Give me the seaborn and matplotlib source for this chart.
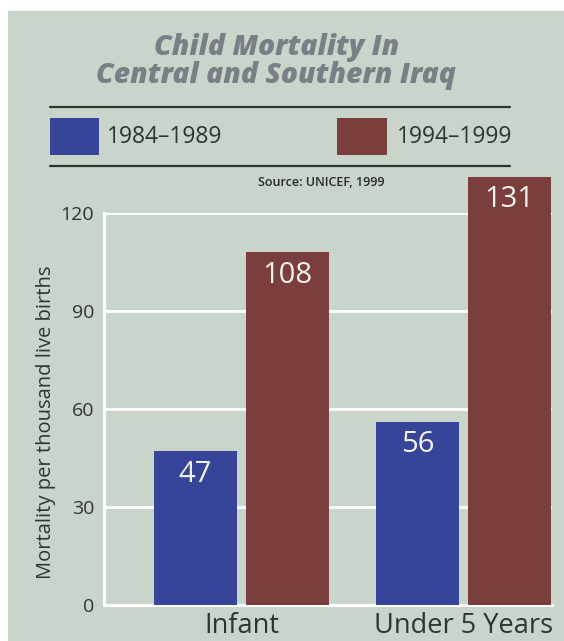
import pandas as pd
import matplotlib.pyplot as plt
import seaborn as sns
from matplotlib.patches import Rectangle

# data
categories = ['Infant', 'Under 5 Years']
periods = ['1984\u20131989', '1994\u20131999']
early = [47, 56]
late = [108, 131]
y_ticks = [0, 30, 60, 90, 120]

rows = []
for i, cat in enumerate(categories):
    rows.append({'Group': cat, 'Period': periods[0], 'Rate': early[i]})
    rows.append({'Group': cat, 'Period': periods[1], 'Rate': late[i]})
df = pd.DataFrame(rows)

sns.set_style('white')
plt.rcParams['font.family'] = ['Open Sans', 'DejaVu Sans']

panel = '#c9d4cb'
blue = '#36459a'
brown = '#7a3f3c'
ink = '#2f3432'

fig = plt.figure(figsize=(5.64, 6.41), dpi=100, facecolor='white')
fig.patches.append(Rectangle((8 / 564, 0), 1, 1 - 11 / 641, transform=fig.transFigure,
                             facecolor=panel, edgecolor='none', zorder=-10))

ax = fig.add_axes([104 / 564, 36 / 641, 448 / 564, 392 / 641])
ax.set_facecolor('none')

sns.barplot(data=df, x='Group', y='Rate', hue='Period', order=categories,
            hue_order=periods, palette=[blue, brown], saturation=1,
            width=0.83, gap=0.1, linewidth=0, legend=False, ax=ax)

for bar in ax.patches:
    bar.set_clip_on(False)
    h = bar.get_height()
    ax.annotate(f'{h:.0f}', (bar.get_x() + bar.get_width() / 2, h),
                xytext=(0, -6), textcoords='offset points', ha='center', va='top',
                fontsize=21, color='#f4f2ec', annotation_clip=False)

ax.set_xlim(-0.619, 1.399)
ax.set_ylim(0, 120)
ax.set_yticks(y_ticks)
ax.tick_params(axis='y', length=0, pad=7, labelsize=14, labelcolor='#333333')
ax.tick_params(axis='x', length=0, pad=5, labelsize=19.5, labelcolor=ink)
ax.set_xlabel('')
ax.set_ylabel('Mortality per thousand live births', fontsize=14.5, color='#333333')
ax.yaxis.set_label_coords(-0.108, 0.467)

ax.grid(axis='y', color='white', linewidth=2)
ax.set_axisbelow(True)
for side in ['top', 'right']:
    ax.spines[side].set_visible(False)
for side in ['left', 'bottom']:
    ax.spines[side].set_color('white')
    ax.spines[side].set_linewidth(2.2)
    ax.spines[side].set_zorder(0.5)

# title block
title_color = '#7a7e86'
fig.text(0.49, 1 - 55 / 641, 'Child Mortality In', ha='center', va='baseline',
         fontsize=20.3, fontweight='heavy', fontstyle='italic', color=title_color)
fig.text(0.49, 1 - 83 / 641, 'Central and Southern Iraq', ha='center', va='baseline',
         fontsize=20.3, fontweight='heavy', fontstyle='italic', color=title_color)

for yy in [107, 166]:
    fig.add_artist(plt.Line2D([50 / 564, 510 / 564], [1 - yy / 641, 1 - yy / 641],
                              color=ink, linewidth=1.6))

# legend row
fig.patches.append(Rectangle((50 / 564, 1 - 155 / 641), 49 / 564, 37 / 641,
                             transform=fig.transFigure, facecolor=blue, edgecolor='none'))
fig.patches.append(Rectangle((337 / 564, 1 - 155 / 641), 50 / 564, 37 / 641,
                             transform=fig.transFigure, facecolor=brown, edgecolor='none'))
fig.text(107 / 564, 1 - 137 / 641, periods[0], ha='left', va='center', fontsize=16.5, color=ink)
fig.text(397 / 564, 1 - 137 / 641, periods[1], ha='left', va='center', fontsize=16.5, color=ink)

fig.text(321 / 564, 1 - 182 / 641, 'Source: UNICEF, 1999', ha='center', va='center',
         fontsize=9, fontweight='semibold', color='#2a2a2a')

plt.savefig('out.png', dpi=100, facecolor=fig.get_facecolor())
